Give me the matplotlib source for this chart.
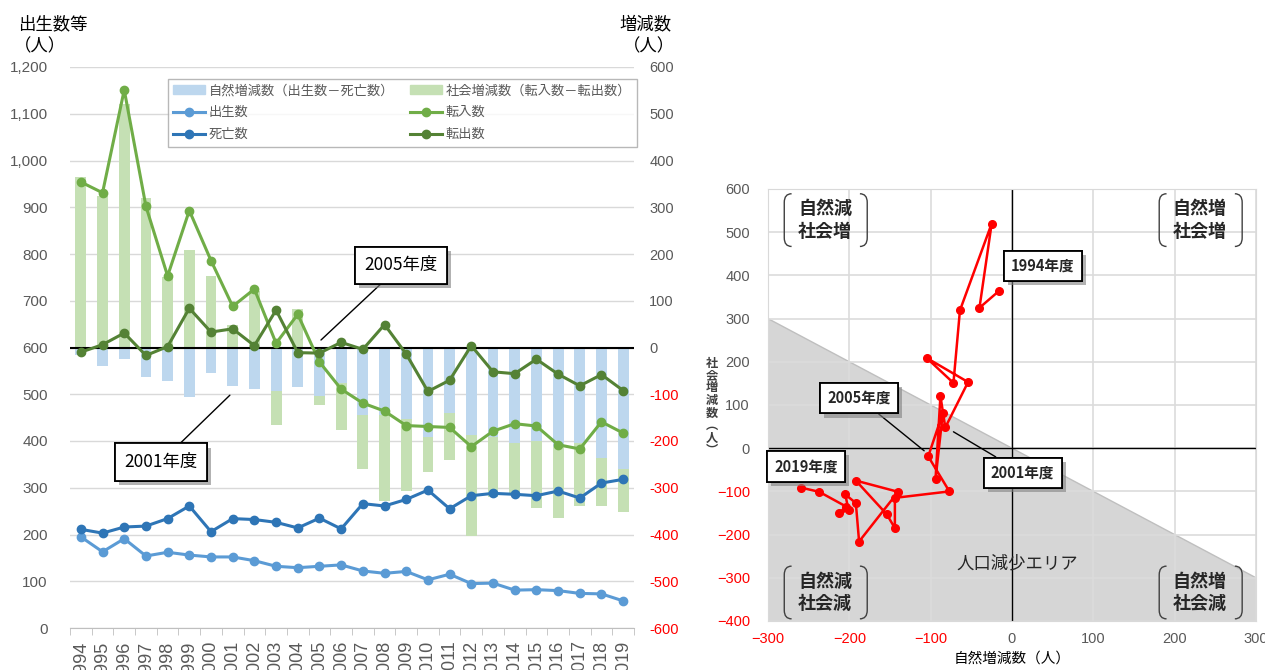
import numpy as np
import matplotlib
matplotlib.use("Agg")
import matplotlib.pyplot as plt
import matplotlib.patheffects as pe
from matplotlib.path import Path
from matplotlib.patches import PathPatch, Polygon, Patch
from matplotlib.lines import Line2D

plt.rcParams['font.family'] = ['Noto Sans CJK JP', 'DejaVu Sans']

years = ["1994", "1995", "1996", "1997", "1998", "1999", "2000", "2001", "2002",
         "2003", "2004", "2005", "2006", "2007", "2008", "2009", "2010", "2011",
         "2012", "2013", "2014", "2015", "2016", "2017", "2018", "2019"]
births = [195, 163, 191, 154, 162, 156, 152, 152, 144, 132, 129, 132, 135,
          122, 117, 121, 103, 115, 95, 96, 81, 82, 80, 74, 73, 58]
deaths = [211, 203, 216, 218, 234, 261, 206, 234, 232, 226, 214, 235, 212,
          266, 261, 275, 295, 255, 283, 288, 286, 283, 293, 278, 310, 318]
move_in = [954, 931, 1151, 902, 753, 893, 786, 688, 725, 609, 671, 569, 511,
           481, 464, 433, 431, 429, 388, 421, 437, 432, 392, 383, 441, 417]
move_out = [590, 606, 631, 583, 602, 684, 633, 640, 604, 680, 589, 588, 611,
            596, 649, 586, 506, 530, 604, 548, 544, 575, 543, 518, 542, 508]

# 自然増減 = 出生 - 死亡, 社会増減 = 転入 - 転出
natural = np.array(births) - np.array(deaths)
social = np.array(move_in) - np.array(move_out)

BAR_BLUE = "#BDD7EE"
BAR_GREEN = "#C5E0B4"
C_BIRTH = "#5B9BD5"
C_DEATH = "#2E75B6"
C_IN = "#70AD47"
C_OUT = "#548235"
GRID = "#D9D9D9"
TICK = "#595959"
NUM_FONT = "Liberation Sans"

W, H = 1265, 670
fig = plt.figure(figsize=(W / 100, H / 100), dpi=100)


def shadow_box(t):
    t.get_bbox_patch().set_path_effects(
        [pe.withSimplePatchShadow(offset=(3, -3), shadow_rgbFace="#808080", alpha=0.6),
         pe.Normal()])


# ---------------- 左: 推移グラフ ----------------
ax = fig.add_axes([70 / W, 42 / H, 564 / W, 561 / H])
x = np.arange(len(years))

ax.bar(x, natural, width=0.5, color=BAR_BLUE, zorder=2)
green_bottom = np.where(social < 0, np.minimum(natural, 0), np.maximum(natural, 0))
ax.bar(x, social, width=0.5, bottom=green_bottom, color=BAR_GREEN, zorder=2)
ax.axhline(0, color="black", lw=1.5, zorder=3)

ax.set_ylim(-600, 600)
ax.set_xlim(-0.5, len(years) - 0.5)
ax.grid(axis="y", color=GRID, lw=1, zorder=0)
ax.set_axisbelow(True)

ax.set_xticks(x)
ax.set_xticklabels(years, rotation=90, fontsize=13, color=TICK, family=NUM_FONT)
ax.set_xticks(np.arange(-0.5, len(years), 1), minor=True)
ax.tick_params(axis="x", which="major", length=0, pad=9)
ax.tick_params(axis="x", which="minor", length=5, color="#BFBFBF")
for s in ["top", "left", "right"]:
    ax.spines[s].set_visible(False)
ax.spines["bottom"].set_color("#BFBFBF")

ax2 = ax.twinx()
# twinx moves the original ticks to the left, so set sides afterwards
ax.yaxis.tick_right()
ax2.yaxis.tick_left()
ax.set_yticks(range(-600, 601, 100))
ax.set_yticklabels([str(v) for v in range(-600, 601, 100)], fontsize=10.5, family=NUM_FONT)
for lab, v in zip(ax.get_yticklabels(), range(-600, 601, 100)):
    lab.set_color("red" if v < 0 else TICK)
ax.tick_params(axis="y", length=0, pad=11)

ax2.plot(x, births, color=C_BIRTH, lw=2.2, marker="o", ms=6, zorder=4)
ax2.plot(x, deaths, color=C_DEATH, lw=2.2, marker="o", ms=6, zorder=4)
ax2.plot(x, move_in, color=C_IN, lw=2.2, marker="o", ms=6, zorder=4)
ax2.plot(x, move_out, color=C_OUT, lw=2.2, marker="o", ms=6, zorder=4)
ax2.set_ylim(0, 1200)
ax2.set_yticks(range(0, 1201, 100))
ax2.set_yticklabels([f"{v:,}" for v in range(0, 1201, 100)], fontsize=11,
                    color=TICK, family=NUM_FONT)
ax2.tick_params(axis="y", length=0, pad=16)
for s in ax2.spines.values():
    s.set_visible(False)

t = ax2.annotate("2005年度", xy=(11.07, 616), xytext=(14.75, 776), fontsize=12.5,
                 ha="center", va="center", zorder=6,
                 bbox=dict(boxstyle="square,pad=0.55", fc="white", ec="black", lw=1.3),
                 arrowprops=dict(arrowstyle="-", color="black", lw=1, shrinkA=0, shrinkB=0))
shadow_box(t)
t = ax2.annotate("2001年度", xy=(6.87, 498), xytext=(3.69, 355), fontsize=12.5,
                 ha="center", va="center", zorder=6,
                 bbox=dict(boxstyle="square,pad=0.55", fc="white", ec="black", lw=1.3),
                 arrowprops=dict(arrowstyle="-", color="black", lw=1, shrinkA=0, shrinkB=0))
shadow_box(t)

handles = [
    Patch(color=BAR_BLUE),
    Line2D([], [], color=C_BIRTH, lw=2.2, marker="o", ms=6),
    Line2D([], [], color=C_DEATH, lw=2.2, marker="o", ms=6),
    Patch(color=BAR_GREEN),
    Line2D([], [], color=C_IN, lw=2.2, marker="o", ms=6),
    Line2D([], [], color=C_OUT, lw=2.2, marker="o", ms=6),
]
labels = ["自然増減数（出生数－死亡数）", "出生数", "死亡数",
          "社会増減数（転入数－転出数）", "転入数", "転出数"]
leg = ax2.legend(handles, labels, ncol=2, loc="upper left",
                 bbox_to_anchor=(168 / W, 1 - 79 / H), bbox_transform=fig.transFigure,
                 fontsize=9.5, frameon=True, fancybox=False, edgecolor="#A6A6A6",
                 handlelength=2.4, handletextpad=0.3, columnspacing=1.2,
                 labelspacing=0.68, borderpad=0.4, borderaxespad=0)
leg.get_frame().set_linewidth(1)
for txt in leg.get_texts():
    txt.set_color(TICK)

fig.text(18 / W, 1 - 24 / H, "出生数等", fontsize=12.5, va="center", ha="left")
fig.text(14 / W, 1 - 46 / H, "（人）", fontsize=12.5, va="center", ha="left")
fig.text(672 / W, 1 - 24 / H, "増減数", fontsize=12.5, va="center", ha="right")
fig.text(675 / W, 1 - 46 / H, "（人）", fontsize=12.5, va="center", ha="right")

# ---------------- 右: 散布図 ----------------
ax3 = fig.add_axes([768 / W, 49 / H, 488 / W, 432 / H])
ax3.set_xlim(-300, 300)
ax3.set_ylim(-400, 600)
ax3.add_patch(Polygon([(-300, 300), (300, -300), (300, -400), (-300, -400)],
                      closed=True, fc="#D6D6D6", ec="#BFBFBF", lw=1, zorder=0.3))
ax3.set_xticks(range(-300, 301, 100))
ax3.set_yticks(range(-400, 601, 100))
ax3.grid(color="#DCDCDC", lw=1.2)
ax3.set_axisbelow(True)
ax3.axhline(0, color="black", lw=1, zorder=1)
ax3.axvline(0, color="black", lw=1, zorder=1)
for s in ax3.spines.values():
    s.set_color(GRID)

ax3.set_xticklabels([str(v).replace("-", "−") for v in range(-300, 301, 100)],
                    fontsize=10.5, family=NUM_FONT)
ax3.set_yticklabels([str(v).replace("-", "−") for v in range(-400, 601, 100)],
                    fontsize=10.5, family=NUM_FONT)
for lab, v in zip(ax3.get_xticklabels(), range(-300, 301, 100)):
    lab.set_color("red" if v < 0 else TICK)
for lab, v in zip(ax3.get_yticklabels(), range(-400, 601, 100)):
    lab.set_color("red" if v < 0 else TICK)
ax3.tick_params(axis="y", length=0, pad=13)
ax3.tick_params(axis="x", length=0, pad=8)

ax3.plot(natural, social, color="red", lw=1.8, marker="o", ms=5.5, zorder=4)

ax3.set_xlabel("自然増減数（人）", fontsize=10.5, labelpad=4)
# 縦書きの軸ラベル（1文字ずつ配置）
for i, ch in enumerate("社会増減数︵人︶"):
    fig.text(712 / W, 1 - (363 + 12.5 * i) / H, ch, fontsize=8.8, ha="center",
             va="center", fontweight="bold", color="#404040")


def bracket(ax, x0, x1, y0, y1, dx=9, dy=20):
    codes = [Path.MOVETO, Path.CURVE3, Path.CURVE3, Path.LINETO, Path.CURVE3, Path.CURVE3]
    for xe, sgn in [(x0, 1), (x1, -1)]:
        verts = [(xe + sgn * dx, y1), (xe, y1), (xe, y1 - dy),
                 (xe, y0 + dy), (xe, y0), (xe + sgn * dx, y0)]
        ax.add_patch(PathPatch(Path(verts, codes), fc="none", ec="#404040", lw=1, zorder=5))


quads = [(-230, 528, "自然減\n社会増"), (231, 528, "自然増\n社会増"),
         (-230, -334, "自然減\n社会減"), (231, -334, "自然増\n社会減")]
for qx, qy, qt in quads:
    ax3.text(qx, qy, qt, fontsize=13, ha="center", va="center", linespacing=1.25,
             fontweight="bold", color="#262626", zorder=5)
    bracket(ax3, qx - 50, qx + 52, qy - 61, qy + 61)

ax3.text(7, -266, "人口減少エリア", fontsize=12.5, ha="center", va="center",
         color="#262626", zorder=5)

box = dict(boxstyle="square,pad=0.5", fc="white", ec="black", lw=1.3)
lab_kw = dict(fontsize=10.5, ha="center", va="center", fontweight="bold", color="#262626",
              bbox=box, zorder=6)
line_kw = dict(arrowstyle="-", color="black", lw=1, shrinkA=0, shrinkB=0)
t = ax3.text(38, 422, "1994年度", **lab_kw)
shadow_box(t)
t = ax3.text(-253, -42, "2019年度", **lab_kw)
shadow_box(t)
t = ax3.annotate("2005年度", xy=(-108, -6), xytext=(-188, 116), arrowprops=line_kw, **lab_kw)
shadow_box(t)
t = ax3.annotate("2001年度", xy=(-72, 38), xytext=(13, -57), arrowprops=line_kw, **lab_kw)
shadow_box(t)

fig.savefig("out.png", dpi=100)
